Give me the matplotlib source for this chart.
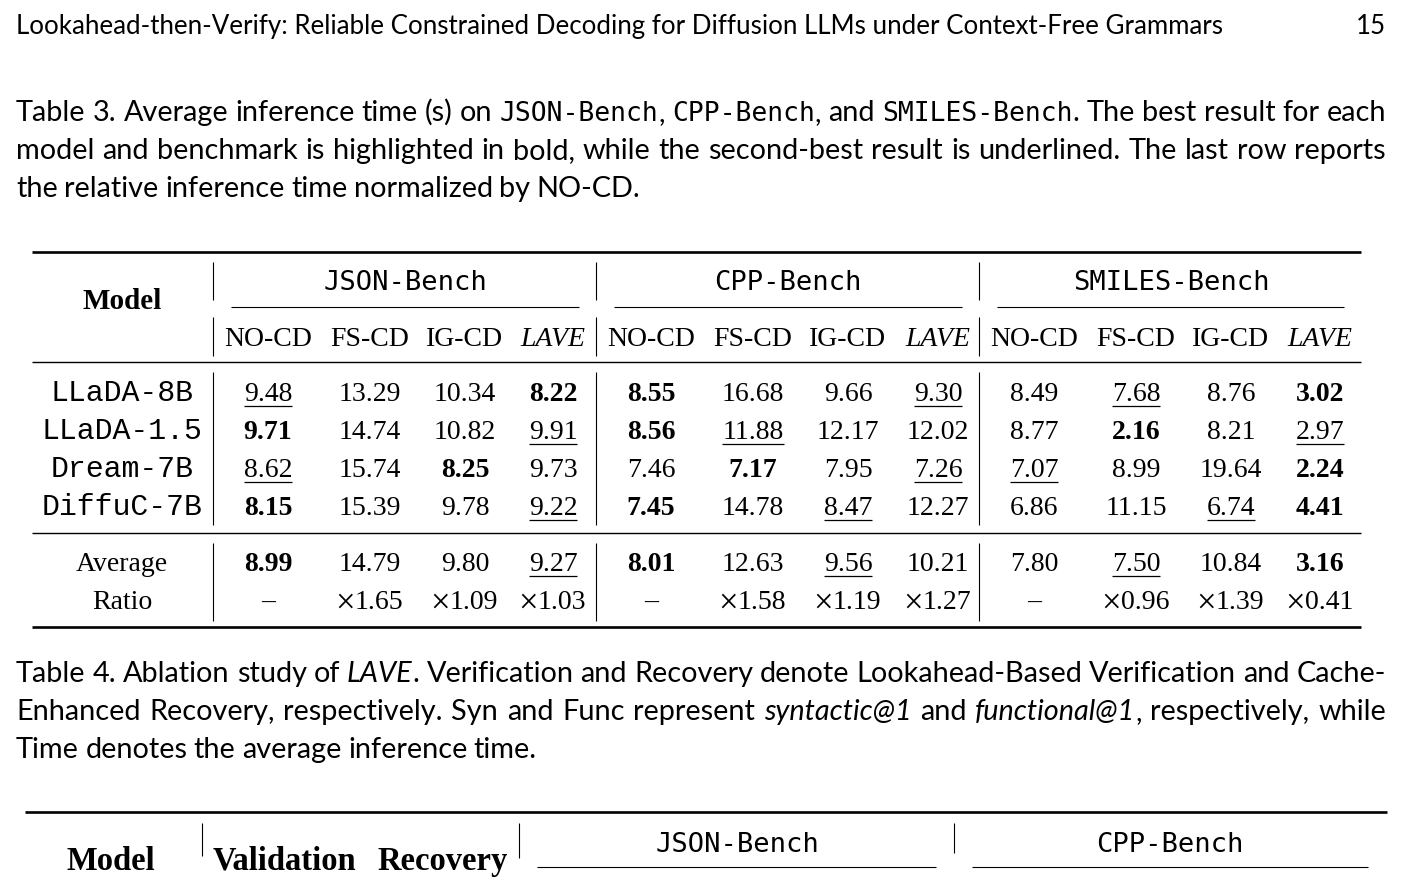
import re
import numpy as np
import matplotlib
matplotlib.use("Agg")
import matplotlib.pyplot as plt

W, H = 1404, 877

# ---------------- data ----------------
models = ["LLaDA-8B", "LLaDA-1.5", "Dream-7B", "DiffuC-7B"]
benches = ["JSON-Bench", "CPP-Bench", "SMILES-Bench"]
methods = ["NO-CD", "FS-CD", "IG-CD", "LAVE"]

# one row per model, columns = bench x method
times = np.array([
    [9.48, 13.29, 10.34, 8.22, 8.55, 16.68, 9.66, 9.30, 8.49, 7.68, 8.76, 3.02],
    [9.71, 14.74, 10.82, 9.91, 8.56, 11.88, 12.17, 12.02, 8.77, 2.16, 8.21, 2.97],
    [8.62, 15.74, 8.25, 9.73, 7.46, 7.17, 7.95, 7.26, 7.07, 8.99, 19.64, 2.24],
    [8.15, 15.39, 9.78, 9.22, 7.45, 14.78, 8.47, 12.27, 6.86, 11.15, 6.74, 4.41],
])
average = np.array([8.99, 14.79, 9.80, 9.27, 8.01, 12.63, 9.56, 10.21, 7.80, 7.50, 10.84, 3.16])
ratio = [None, 1.65, 1.09, 1.03, None, 1.58, 1.19, 1.27, None, 0.96, 1.39, 0.41]

header_title = "Lookahead-then-Verify: Reliable Constrained Decoding for Diffusion LLMs under Context-Free Grammars"
page_no = "15"

caption3 = [
    "Table 3.  Average inference time (s) on {m:JSON-Bench}, {m:CPP-Bench}, and {m:SMILES-Bench}. The best result for each",
    "model and benchmark is highlighted in bold, while the second-best result is underlined. The last row reports",
    "the relative inference time normalized by NO-CD.",
]
caption4 = [
    "Table 4.  Ablation study of {i:LAVE}. Verification and Recovery denote Lookahead-Based Verification and Cache-",
    "Enhanced Recovery, respectively. Syn and Func represent {i:syntactic@1} and {i:functional@1}, respectively, while",
    "Time denotes the average inference time.",
]
t4_cols = ["Validation", "Recovery"]

# ---------------- fonts ----------------
SANS = "Lato"
SERIF = "Liberation Serif"
MONO = "DejaVu Sans Mono"
TYPE = "Liberation Mono"
CAP_FS = 20.8
CELL_FS = 20
styles = {
    "n": dict(family=SANS, size=CAP_FS),
    "m": dict(family=MONO, size=19),
    "i": dict(family=SANS, size=CAP_FS, style="italic"),
}

fig = plt.figure(figsize=(W / 100, H / 100), dpi=100)
ax = fig.add_axes([0, 0, 1, 1])
ax.set_xlim(0, W)
ax.set_ylim(H, 0)
ax.axis("off")
rend = fig.canvas.get_renderer()


def txt_width(t):
    return t.get_window_extent(renderer=rend).width


def put_word(x, y, word):
    # a word may mix fonts, segments are placed edge to edge
    parts = re.findall(r"\{(\w):([^}]*)\}|([^{]+)", word)
    xx = x
    out = []
    for code, inner, plain in parts:
        s = inner if code else plain
        st = styles[code] if code else styles["n"]
        t = ax.text(xx, y, s, ha="left", va="baseline", color="black", **st)
        xx += txt_width(t)
        out.append(t)
    return out, xx - x


def caption(lines, y0, x0=16, x1=1386, lead=38):
    for k, line in enumerate(lines):
        y = y0 + k * lead
        words = line.split()
        placed = []
        for w_ in words:
            ts, wd = put_word(0, y, w_)
            placed.append((ts, wd))
        total = sum(wd for _, wd in placed)
        last = k == len(lines) - 1
        gap = 6.5 if last else (x1 - x0 - total) / (len(placed) - 1)
        x = x0
        for ts, wd in placed:
            for t in ts:
                t.set_x(t.get_position()[0] + x)
            x += wd + gap


def hline(y, x0, x1, lw):
    ax.plot([x0, x1], [y, y], color="black", lw=lw, solid_capstyle="butt")


def vline(x, y0, y1, lw=0.8):
    ax.plot([x, x], [y0, y1], color="black", lw=lw, solid_capstyle="butt")


def cell(x, y, s, bold=False, under=False, italic=False, family=SERIF, size=CELL_FS):
    t = ax.text(x, y, s, ha="center", va="baseline", family=family, size=size,
                weight="bold" if bold else "normal",
                style="italic" if italic else "normal")
    if under:
        w_ = txt_width(t)
        hline(y + 5, x - w_ / 2, x + w_ / 2, 0.9)
    return t


# ---------------- running head ----------------
ax.text(16, 34, header_title, ha="left", va="baseline", family=SANS, size=18.6)
ax.text(1386, 34, page_no, ha="right", va="baseline", family=SANS, size=18.6)

# ---------------- Table 3 ----------------
caption(caption3, 121)

col_x = [268, 370, 465, 553, 651, 753, 848, 938, 1034, 1136, 1231, 1320]
bench_x = [405, 788, 1171]
cmid = [(231, 579), (614, 962), (997, 1344)]
sep_x = [213, 596, 979]
model_x = 122
row_y = [401, 439, 477, 515]
avg_y, ratio_y = 571, 609

hline(252, 32, 1361, 1.9)
hline(362, 32, 1361, 1.0)
hline(533, 32, 1361, 1.0)
hline(627, 32, 1361, 1.9)

for x in sep_x:
    vline(x, 262, 300)
    vline(x, 317, 356)
    vline(x, 372, 525)
    vline(x, 543, 621)

cell(model_x, 309, "Model", bold=True, size=CELL_FS + 1)
for b, bx, (c0, c1) in zip(benches, bench_x, cmid):
    cell(bx, 290, b, family=MONO, size=19.5)
    hline(307, c0, c1, 0.8)

for j, x in enumerate(col_x):
    m = methods[j % 4]
    cell(x, 346, m, italic=(m == "LAVE"))


def ranks(vals):
    # rank of each value within its benchmark group (0 = best)
    rk = np.zeros(len(vals), dtype=int)
    for g in range(3):
        seg = vals[g * 4:(g + 1) * 4]
        rk[g * 4:(g + 1) * 4] = np.argsort(np.argsort(seg))
    return rk


for i, name in enumerate(models):
    cell(model_x, row_y[i], name, family=TYPE, size=CELL_FS + 1.5)
    rk = ranks(times[i])
    for j, x in enumerate(col_x):
        cell(x, row_y[i], f"{times[i, j]:.2f}", bold=rk[j] == 0, under=rk[j] == 1)

cell(model_x, avg_y, "Average")
cell(model_x, ratio_y, "Ratio")
rk = ranks(average)
for j, x in enumerate(col_x):
    cell(x, avg_y, f"{average[j]:.2f}", bold=rk[j] == 0, under=rk[j] == 1)
    if ratio[j] is None:
        cell(x, ratio_y, "\u2013")
    else:
        # thin, wide multiplication sign next to the number
        num = f"{ratio[j]:.2f}"
        t = ax.text(x + 9, ratio_y, num, ha="center", va="baseline",
                    family=SERIF, size=CELL_FS)
        w_ = txt_width(t)
        ax.text(x + 9 - w_ / 2, ratio_y + 4, "\u00d7", ha="right", va="baseline",
                family=SERIF, size=CELL_FS + 5)

# ---------------- Table 4 (top only) ----------------
caption(caption4, 682)

hline(812, 25, 1387, 1.9)
for x, (y0, y1) in zip([202, 519, 954], [(823, 856), (823, 858), (823, 853)]):
    vline(x, y0, y1)
cell(111, 870, "Model", bold=True, size=23.5)
cell(284, 870, t4_cols[0], bold=True, size=23.5)
cell(443, 870, t4_cols[1], bold=True, size=23.5)
cell(737, 852, benches[0], family=MONO, size=19.5)
cell(1170, 852, benches[1], family=MONO, size=19.5)
hline(867, 537, 936, 0.8)
hline(867, 972, 1368, 0.8)

fig.savefig("out.png", dpi=100)
